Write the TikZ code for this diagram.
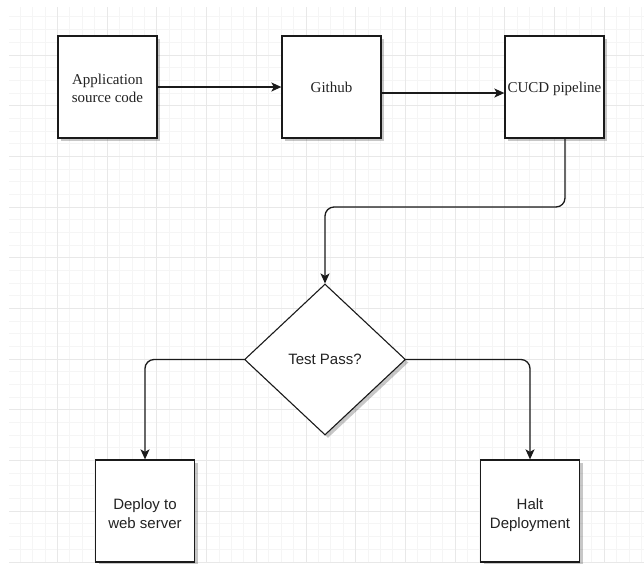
\documentclass[tikz,border=0pt]{standalone}
\usepackage{fontspec}
\setmainfont{Liberation Serif}
\setsansfont{Liberation Sans}
\usetikzlibrary{shapes.geometric,arrows.meta,shadows,calc}

\definecolor{gridminor}{HTML}{F5F5F5}
\definecolor{gridmajor}{HTML}{E8E8E8}
\definecolor{inkline}{HTML}{1A1A1A}
\definecolor{inktext}{HTML}{222222}

% lower a label inside its box without changing the box's centring
\newcommand{\droptext}[2]{\raisebox{-#1}[\height][\depth]{\begin{tabular}{@{}c@{}}#2\end{tabular}}}

\tikzset{
  boxshadow/.style={drop shadow={shadow xshift=3pt,shadow yshift=-3pt,fill=black,opacity=0.22}},
  procbox/.style={draw=inkline,line width=1.3pt,fill=white,rectangle,
    minimum width=99pt,minimum height=102pt,inner sep=0pt,align=center,
    text=inktext,boxshadow},
  serifbox/.style={procbox,font=\rmfamily\fontsize{15}{18}\selectfont},
  sansbox/.style={procbox,font=\sffamily\fontsize{15}{19}\selectfont},
  decision/.style={diamond,draw=inkline,line width=1.1pt,fill=white,
    minimum width=161pt,minimum height=151pt,inner sep=0pt,
    text=inktext,font=\sffamily\fontsize{15}{18}\selectfont,boxshadow},
  flow/.style={draw=inkline,line width=1.3pt,rounded corners=9pt,
    -{Stealth[length=10pt,width=9pt,inset=2.5pt]}}
}

\begin{document}
\begin{tikzpicture}[x=1pt,y=-1pt]
  \useasboundingbox (0,0) rectangle (644,563);
  \fill[white] (0,0) rectangle (644,563);

  % background grid: four minor cells per major cell
  \begin{scope}
    \clip (9,7) rectangle (644,563);
    \foreach \i in {1,...,51}
      \draw[gridminor,line width=1pt] ({7.8+12.425*\i},0) -- ({7.8+12.425*\i},563);
    \foreach \j in {0,...,44}
      \draw[gridminor,line width=1pt] (0,{4.3+12.675*\j}) -- (644,{4.3+12.675*\j});
    \foreach \i in {4,8,...,48}
      \draw[gridmajor,line width=1pt] ({7.8+12.425*\i},0) -- ({7.8+12.425*\i},563);
    \foreach \j in {0,4,...,44}
      \draw[gridmajor,line width=1pt] (0,{4.3+12.675*\j}) -- (644,{4.3+12.675*\j});
  \end{scope}

  % process steps
  \node[serifbox] (src)  at (107.5,87) {\droptext{2.5pt}{Application\\source code}};
  \node[serifbox] (git)  at (331.5,87) {\droptext{2pt}{Github}};
  \node[serifbox] (cicd) at (554.5,87) {\droptext{2pt}{CUCD pipeline}};

  % decision
  \node[decision] (test) at (325,359.5) {Test Pass?};

  % outcomes
  \node[sansbox] (deploy) at (145,511) {\droptext{4pt}{Deploy to\\web server}};
  \node[sansbox] (halt)   at (530,511) {\droptext{4pt}{Halt\\Deployment}};

  % connectors
  \draw[flow] (src.east) -- (git.west);
  \draw[flow] ($(git.east)+(0,6)$) -- ($(cicd.west)+(0,6)$);
  \draw[flow] (cicd.south -| 565,0) -- (565,207) -- (325,207) -- (test.north);
  \draw[flow] (test.west) -- (deploy.north |- test.west) -- (deploy.north);
  \draw[flow] (test.east) -- (halt.north |- test.east) -- (halt.north);
\end{tikzpicture}
\end{document}
